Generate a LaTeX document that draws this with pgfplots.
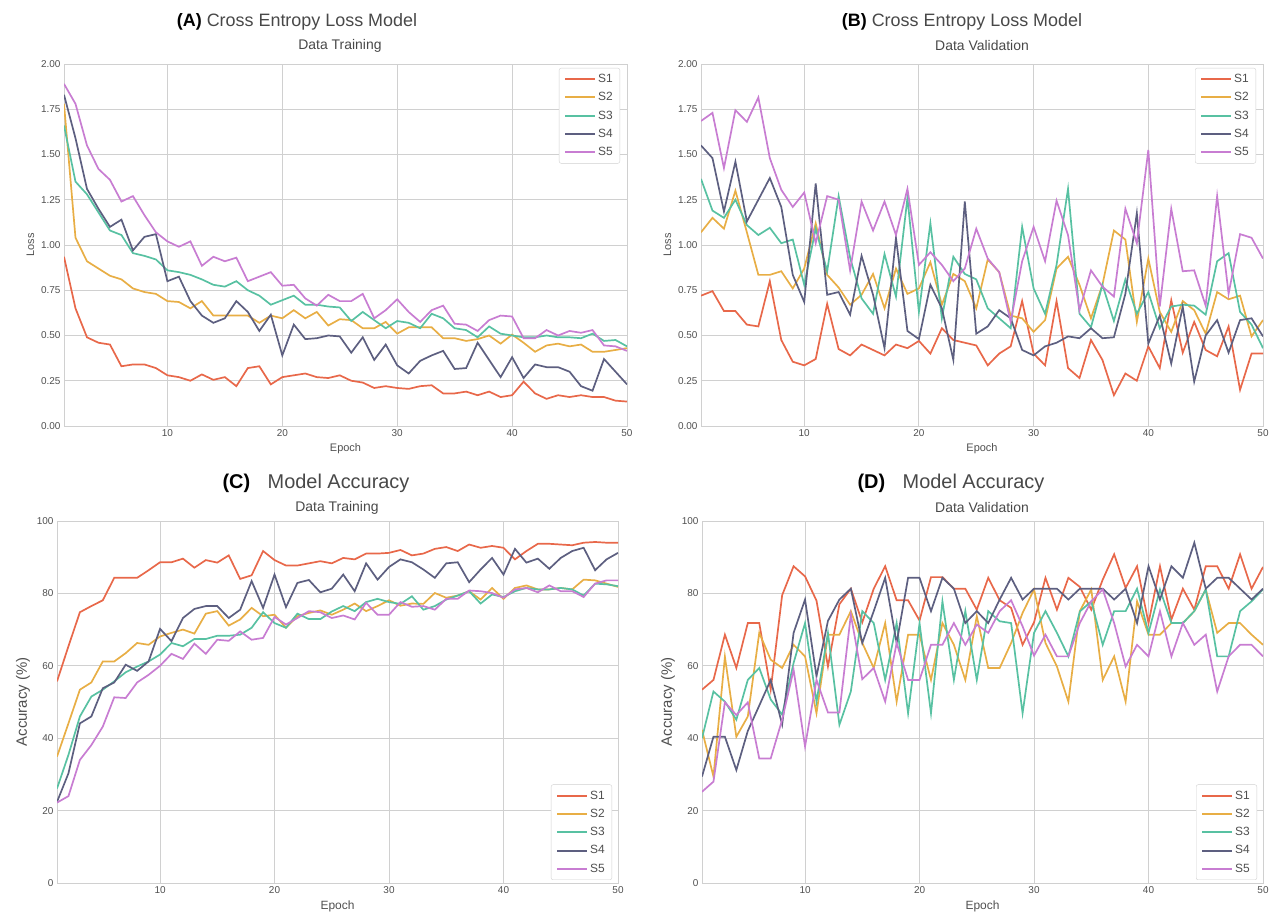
\documentclass[border=0pt]{standalone}
\usepackage{pgfplots}
\pgfplotsset{compat=1.18}
\usepackage{pgfplotstable}
\usepackage{fontspec}
\setmainfont{Liberation Sans}
\definecolor{cA}{HTML}{E8684A}
\definecolor{cB}{HTML}{E8AE45}
\definecolor{cC}{HTML}{58C1A2}
\definecolor{cD}{HTML}{5D5F80}
\definecolor{cE}{HTML}{C87DD2}
\definecolor{gridc}{HTML}{D0D0D0}
\definecolor{tickc}{HTML}{505050}
\definecolor{titc}{HTML}{484848}

\pgfplotstableread{
e s1 s2 s3 s4 s5
1 0.935 1.78 1.66 1.83 1.89
2 0.65 1.04 1.35 1.59 1.78
3 0.49 0.91 1.28 1.31 1.55
4 0.46 0.87 1.18 1.20 1.42
5 0.45 0.83 1.08 1.10 1.36
6 0.33 0.81 1.055 1.14 1.24
7 0.34 0.76 0.955 0.97 1.27
8 0.34 0.74 0.94 1.045 1.165
9 0.32 0.73 0.92 1.06 1.07
10 0.28 0.69 0.86 0.80 1.02
11 0.27 0.685 0.85 0.825 0.99
12 0.25 0.65 0.835 0.69 1.02
13 0.285 0.69 0.81 0.61 0.885
14 0.255 0.61 0.78 0.57 0.935
15 0.27 0.61 0.77 0.595 0.91
16 0.22 0.61 0.80 0.69 0.93
17 0.32 0.61 0.75 0.63 0.80
18 0.33 0.57 0.72 0.525 0.825
19 0.23 0.61 0.67 0.615 0.85
20 0.27 0.595 0.695 0.39 0.775
21 0.28 0.64 0.72 0.56 0.78
22 0.29 0.595 0.67 0.48 0.705
23 0.27 0.63 0.67 0.485 0.665
24 0.265 0.555 0.66 0.50 0.725
25 0.28 0.59 0.655 0.495 0.69
26 0.25 0.585 0.58 0.405 0.69
27 0.24 0.54 0.63 0.49 0.73
28 0.21 0.54 0.585 0.365 0.595
29 0.22 0.575 0.54 0.45 0.64
30 0.21 0.51 0.58 0.335 0.70
31 0.205 0.545 0.57 0.29 0.63
32 0.22 0.545 0.54 0.36 0.575
33 0.225 0.545 0.62 0.39 0.64
34 0.18 0.485 0.595 0.415 0.665
35 0.18 0.485 0.54 0.315 0.565
36 0.19 0.47 0.53 0.32 0.56
37 0.17 0.48 0.49 0.46 0.525
38 0.19 0.50 0.55 0.365 0.585
39 0.16 0.455 0.51 0.27 0.61
40 0.17 0.505 0.50 0.38 0.605
41 0.245 0.46 0.49 0.265 0.485
42 0.18 0.41 0.49 0.34 0.485
43 0.15 0.445 0.50 0.325 0.53
44 0.17 0.455 0.49 0.325 0.50
45 0.16 0.44 0.49 0.30 0.525
46 0.17 0.45 0.485 0.22 0.515
47 0.16 0.41 0.51 0.195 0.53
48 0.16 0.41 0.47 0.37 0.445
49 0.14 0.42 0.475 0.30 0.44
50 0.135 0.43 0.44 0.23 0.415
}\tabA

\pgfplotstableread{
e s1 s2 s3 s4 s5
1 0.72 1.07 1.365 1.55 1.685
2 0.745 1.15 1.19 1.48 1.73
3 0.635 1.09 1.15 1.185 1.425
4 0.635 1.30 1.25 1.46 1.745
5 0.56 1.07 1.11 1.13 1.68
6 0.55 0.835 1.055 1.25 1.815
7 0.80 0.835 1.095 1.37 1.48
8 0.475 0.855 1.01 1.21 1.305
9 0.355 0.76 1.03 0.835 1.21
10 0.335 0.87 0.78 0.685 1.29
11 0.37 1.12 1.09 1.34 1.01
12 0.675 0.835 0.855 0.725 1.27
13 0.425 0.765 1.27 0.74 1.25
14 0.39 0.67 0.93 0.615 0.86
15 0.45 0.725 0.705 0.94 1.24
16 0.42 0.84 0.62 0.725 1.08
17 0.39 0.65 0.95 0.43 1.24
18 0.45 0.87 0.715 1.04 1.055
19 0.43 0.73 1.26 0.525 1.31
20 0.47 0.76 0.63 0.48 0.89
21 0.40 0.905 1.12 0.78 0.96
22 0.54 0.67 0.595 0.65 0.89
23 0.475 0.84 0.935 0.365 0.80
24 0.46 0.80 0.84 1.24 0.87
25 0.445 0.65 0.81 0.51 1.09
26 0.335 0.92 0.65 0.55 0.925
27 0.40 0.85 0.595 0.64 0.85
28 0.44 0.61 0.54 0.595 0.575
29 0.69 0.595 1.10 0.42 0.91
30 0.40 0.52 0.76 0.39 1.10
31 0.335 0.585 0.62 0.44 0.91
32 0.69 0.87 0.89 0.46 1.245
33 0.32 0.935 1.31 0.495 1.055
34 0.265 0.78 0.62 0.485 0.64
35 0.475 0.595 0.545 0.54 0.86
36 0.365 0.78 0.78 0.485 0.77
37 0.17 1.08 0.58 0.49 0.715
38 0.29 1.03 0.81 0.73 1.20
39 0.25 0.575 0.62 1.175 1.01
40 0.44 0.925 0.74 0.455 1.525
41 0.32 0.63 0.54 0.61 0.66
42 0.695 0.52 0.66 0.345 1.20
43 0.405 0.69 0.67 0.66 0.855
44 0.575 0.64 0.665 0.245 0.86
45 0.42 0.51 0.615 0.50 0.665
46 0.385 0.74 0.91 0.585 1.27
47 0.55 0.70 0.955 0.405 0.73
48 0.20 0.72 0.63 0.585 1.06
49 0.40 0.495 0.56 0.595 1.04
50 0.40 0.585 0.43 0.495 0.925
}\tabB

\pgfplotstableread{
e s1 s2 s3 s4 s5
1 55.7 34.9 26.1 22.4 22.2
2 65.4 44.1 35.4 30.3 24.0
3 74.8 53.4 46.0 44.1 34.0
4 76.5 55.4 51.5 46.0 38.1
5 78.1 61.2 53.4 53.8 43.2
6 84.3 61.2 55.7 55.4 51.3
7 84.3 63.5 58.2 60.3 51.1
8 84.3 66.3 59.8 58.6 55.4
9 86.4 65.8 61.2 61.2 57.5
10 88.6 68.1 63.1 70.2 60.0
11 88.6 69.1 66.3 66.8 63.3
12 89.6 70.0 65.4 73.2 61.9
13 87.1 68.9 67.4 75.7 66.1
14 89.2 74.4 67.4 76.5 63.3
15 88.5 75.1 68.3 76.5 67.2
16 90.5 71.1 68.3 73.2 66.9
17 84.0 72.8 68.6 75.5 69.5
18 85.0 76.0 70.5 83.4 67.2
19 91.7 73.7 74.8 76.0 67.7
20 89.2 74.1 71.8 85.2 73.5
21 87.7 70.5 70.5 76.2 71.4
22 87.7 73.7 74.4 82.9 73.2
23 88.3 74.6 72.9 83.7 75.1
24 88.9 75.3 72.9 80.3 74.8
25 88.3 74.1 75.0 81.3 73.2
26 89.8 75.5 76.5 85.2 73.9
27 89.4 77.2 75.1 80.6 72.8
28 91.0 75.1 77.6 88.3 77.4
29 91.0 76.5 78.5 83.8 74.1
30 91.2 78.1 77.6 87.3 74.1
31 92.0 76.6 77.1 89.4 77.6
32 90.5 77.2 79.2 88.6 76.3
33 91.0 77.1 75.5 86.6 76.5
34 92.3 80.1 76.5 84.3 75.5
35 92.8 78.8 78.3 88.3 78.5
36 91.7 79.4 79.4 88.6 78.5
37 93.5 80.6 80.6 83.1 80.8
38 92.6 78.3 77.2 86.6 80.6
39 93.1 81.5 79.7 89.8 80.1
40 92.6 78.5 79.0 85.2 78.8
41 89.4 81.5 80.6 92.3 81.1
42 91.7 82.2 81.5 88.5 81.5
43 93.7 81.1 81.1 89.6 80.3
44 93.7 81.1 81.1 86.8 82.2
45 93.5 81.5 81.5 89.8 80.6
46 93.3 81.1 81.1 91.7 80.6
47 94.0 83.8 79.4 92.6 79.0
48 94.2 83.6 82.7 86.4 82.7
49 94.0 82.7 82.5 89.4 83.6
50 94.0 81.8 82.0 91.2 83.6
}\tabC

\pgfplotstableread{
e s1 s2 s3 s4 s5
1 53.4 42.3 40.0 29.4 25.2
2 56.1 29.4 52.9 40.4 28.0
3 68.6 62.5 50.1 40.4 49.9
4 59.4 40.4 45.1 31.2 46.4
5 71.8 46.0 56.1 42.0 49.9
6 71.8 69.1 59.4 49.0 34.4
7 53.4 61.7 50.7 56.1 34.4
8 79.5 59.4 46.5 43.8 45.1
9 87.5 65.8 60.8 69.1 58.9
10 84.7 62.6 71.8 78.3 37.7
11 78.0 46.9 50.1 57.1 56.1
12 59.8 68.6 69.1 72.4 47.1
13 77.0 68.6 43.7 78.3 47.1
14 81.3 75.1 52.9 81.3 74.1
15 72.0 66.3 75.1 66.3 56.3
16 81.3 59.4 71.8 75.1 59.4
17 87.5 71.8 56.1 84.3 50.1
18 78.1 50.1 71.8 66.3 66.3
19 78.1 68.6 46.9 84.3 56.1
20 72.5 68.6 71.8 84.3 56.1
21 84.5 56.1 46.9 75.1 65.8
22 84.5 71.8 77.8 84.3 65.8
23 81.3 65.8 56.1 81.3 71.8
24 81.3 56.1 75.1 71.8 65.8
25 75.5 73.7 56.1 75.1 71.4
26 84.3 59.4 75.1 71.8 69.1
27 78.1 59.4 72.3 78.3 75.1
28 76.0 66.3 71.8 84.3 78.1
29 65.8 74.6 46.9 78.3 70.9
30 72.0 81.1 69.1 81.3 62.8
31 84.3 66.3 75.1 81.3 68.6
32 75.5 59.8 69.1 81.3 62.6
33 84.3 50.1 62.6 78.3 62.6
34 81.8 75.1 75.0 81.3 71.8
35 75.5 81.1 77.8 81.3 77.8
36 83.8 56.1 65.8 81.3 81.1
37 90.8 62.6 75.1 78.3 71.8
38 81.5 50.1 75.1 81.3 59.8
39 87.5 77.8 81.3 71.8 65.8
40 71.8 68.6 69.1 87.5 62.6
41 87.5 68.6 81.1 78.3 75.1
42 72.8 71.8 71.8 87.5 62.6
43 81.3 71.8 71.8 84.3 71.8
44 75.5 75.1 75.1 94.0 65.8
45 87.5 81.1 81.1 81.3 68.6
46 87.5 69.1 62.6 84.3 52.9
47 81.3 71.8 62.6 84.3 62.6
48 90.8 71.8 75.1 81.3 65.8
49 81.3 68.6 77.8 78.3 65.8
50 87.3 65.8 81.1 81.3 62.6
}\tabD

\pgfplotsset{
  base/.style={
    scale only axis, xmin=1, xmax=50, xtick={10,20,30,40,50},
    grid=major, major grid style={draw=gridc, line width=0.9bp},
    axis line style={draw=gridc, line width=0.9bp},
    major tick length=0pt,
    tick label style={font=\fontsize{10}{12}\selectfont, text=tickc},
    /pgf/number format/assume math mode=true,
    xlabel={Epoch},
    xlabel style={font=\fontsize{11}{13}\selectfont, text=tickc},
    ylabel style={text=tickc},
    legend style={draw=gridc, rounded corners=2bp, font=\fontsize{12}{14}\selectfont,
      text=tickc, fill=white, inner xsep=5bp, inner ysep=4bp, row sep=4.5bp},
    legend cell align=left,
    legend image code/.code={\draw[#1, line width=2bp] (0bp,0bp) -- (30bp,0bp);},
    every axis plot/.append style={line width=1.7bp, mark=none},
  },
  loss/.style={base, ymin=0, ymax=2, ytick={0,0.25,0.5,0.75,1,1.25,1.5,1.75,2},
    yticklabel style={/pgf/number format/.cd, fixed, fixed zerofill, precision=2},
    ylabel={Loss}, ylabel style={font=\fontsize{11}{13}\selectfont},
    legend style={at={(1,1)}, anchor=north east, xshift=-7bp, yshift=-4bp}},
  acc/.style={base, ymin=0, ymax=100, ytick={0,20,40,60,80,100},
    ylabel={Accuracy (\%)}, ylabel style={font=\fontsize{15}{17}\selectfont},
    xlabel style={font=\fontsize{12}{14}\selectfont},
    legend style={at={(1,0)}, anchor=south east, xshift=-6bp, yshift=3bp}},
}

\newcommand{\fiveplots}[1]{%
  \addplot[cA] table[x=e,y=s1] {#1}; \addlegendentry{S1}
  \addplot[cB] table[x=e,y=s2] {#1}; \addlegendentry{S2}
  \addplot[cC] table[x=e,y=s3] {#1}; \addlegendentry{S3}
  \addplot[cD] table[x=e,y=s4] {#1}; \addlegendentry{S4}
  \addplot[cE] table[x=e,y=s5] {#1}; \addlegendentry{S5}
}

\begin{document}
\begin{tikzpicture}
\path[use as bounding box] (0bp,0bp) rectangle (1272bp,920bp);

\begin{axis}[loss, at={(64bp,494bp)}, anchor=south west, width=563bp, height=362bp]
\fiveplots{\tabA}
\end{axis}
\begin{axis}[loss, at={(701bp,494bp)}, anchor=south west, width=562bp, height=362bp]
\fiveplots{\tabB}
\end{axis}
\begin{axis}[acc, at={(57bp,37bp)}, anchor=south west, width=561bp, height=362bp]
\fiveplots{\tabC}
\end{axis}
\begin{axis}[acc, at={(702bp,37bp)}, anchor=south west, width=561bp, height=362bp]
\fiveplots{\tabD}
\end{axis}

\tikzset{ttl/.style={font=\fontsize{18}{22}\selectfont, text=titc, inner sep=0pt},
         ttlb/.style={font=\fontsize{20}{24}\selectfont, text=titc, inner sep=0pt},
         sub/.style={font=\fontsize{14}{16}\selectfont, text=titc, inner sep=0pt}}
\node[ttl] at (297bp,898bp) {\textcolor{black}{\textbf{(A)}} Cross Entropy Loss Model};
\node[sub] at (340bp,874bp) {Data Training};
\node[ttl] at (962bp,898bp) {\textcolor{black}{\textbf{(B)}} Cross Entropy Loss Model};
\node[sub] at (982bp,874bp) {Data Validation};
\node[ttlb] at (316bp,437bp) {\textcolor{black}{\textbf{(C)}}\hspace{0.6em} Model Accuracy};
\node[sub] at (337bp,412bp) {Data Training};
\node[ttlb] at (951bp,437bp) {\textcolor{black}{\textbf{(D)}}\hspace{0.6em} Model Accuracy};
\node[sub] at (982bp,412bp) {Data Validation};
\end{tikzpicture}
\end{document}
